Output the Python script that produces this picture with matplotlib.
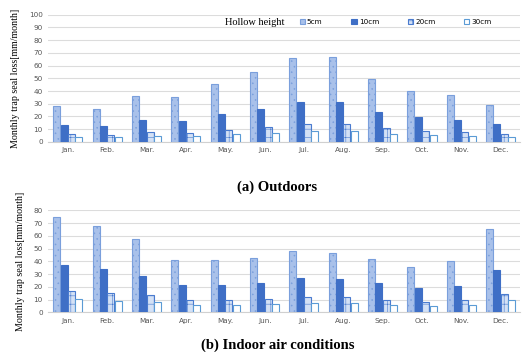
import numpy as np
import matplotlib.pyplot as plt

months = ['Jan.', 'Feb.', 'Mar.', 'Apr.', 'May.', 'Jun.', 'Jul.', 'Aug.', 'Sep.', 'Oct.', 'Nov.', 'Dec.']
heights = ['5cm', '10cm', '20cm', '30cm']

# outdoors, monthly trap seal loss [mm/month]
out_5 = [28.4, 26.2, 36.2, 35.4, 45.7, 55.1, 65.6, 66.6, 49.8, 39.8, 36.6, 29.2]
out_10 = [13.4, 12.6, 17.3, 16.6, 21.8, 26.2, 31.4, 31.6, 23.8, 19.2, 17.4, 14.0]
out_20 = [6.2, 5.5, 7.6, 7.3, 9.5, 11.8, 13.9, 14.2, 10.8, 8.6, 7.6, 6.3]
out_30 = [3.9, 3.8, 4.9, 4.7, 6.3, 7.2, 8.6, 8.8, 6.5, 5.4, 4.8, 4.2]

# indoor air conditions
in_5 = [75.0, 67.5, 57.2, 41.3, 40.8, 43.0, 48.5, 46.9, 42.0, 35.7, 40.5, 65.8]
in_10 = [37.4, 33.9, 28.7, 21.6, 21.5, 23.3, 26.8, 26.1, 22.9, 19.0, 21.0, 33.1]
in_20 = [16.8, 15.1, 13.2, 9.8, 9.7, 10.5, 12.0, 11.8, 9.9, 8.3, 9.4, 14.6]
in_30 = [10.4, 9.1, 8.1, 6.0, 6.0, 6.3, 7.3, 7.1, 6.0, 5.2, 5.7, 9.3]

plt.rcParams['hatch.linewidth'] = 0.4

styles = [
    dict(facecolor='#a9c1ea', edgecolor='#7a9fdc', hatch='...'),
    dict(facecolor='#3f6fc6', edgecolor='#3f6fc6', hatch=None),
    dict(facecolor='#d4e1f5', edgecolor='#4a7bcf', hatch='++'),
    dict(facecolor='white', edgecolor='#5b9bd5', hatch=None),
]

def draw(ax, series, ymax):
    x = np.arange(len(months))
    w = 0.178
    step = 0.187
    bars = []
    for i, vals in enumerate(series):
        b = ax.bar(x + (i - 1.5) * step, vals, w, linewidth=0.8, zorder=3, **styles[i])
        bars.append(b)
    ax.set_xlim(-0.5, len(months) - 0.5)
    ax.set_ylim(0, ymax)
    ax.set_yticks(np.arange(0, ymax + 1, 10))
    ax.set_xticks(x)
    ax.set_xticklabels(months)
    ax.grid(axis='y', color='#dcdcdc', linewidth=0.8, zorder=0)
    for s in ['top', 'right', 'left']:
        ax.spines[s].set_visible(False)
    ax.spines['bottom'].set_color('#d0d0d0')
    ax.tick_params(length=0, labelsize=5.2, labelcolor='#555555', pad=4)
    ax.set_ylabel('Monthly trap seal loss[mm/month]', family='Liberation Serif',
                  fontsize=7.2, labelpad=6)
    return bars

fig = plt.figure(figsize=(5.24, 3.52), dpi=100)
ax1 = fig.add_axes([0.092, 0.597, 0.901, 0.361])
ax2 = fig.add_axes([0.092, 0.113, 0.901, 0.289])

bars = draw(ax1, [out_5, out_10, out_20, out_30], 100)
draw(ax2, [in_5, in_10, in_20, in_30], 80)

fig.text(0.43, 0.937, 'Hollow height', family='Liberation Serif', fontsize=7.5,
         va='center', ha='left')
fig.legend(bars, heights, loc='center left', bbox_to_anchor=(0.572, 0.937), ncol=4,
           frameon=False, fontsize=5.2, handlelength=0.7, handleheight=0.7,
           handletextpad=0.3, columnspacing=4.0, borderaxespad=0, borderpad=0)

fig.text(0.528, 0.468, '(a) Outdoors', family='Liberation Serif', fontweight='bold',
         fontsize=10.5, ha='center', va='center')
fig.text(0.53, 0.018, '(b) Indoor air conditions', family='Liberation Serif',
         fontweight='bold', fontsize=10.5, ha='center', va='center')

fig.savefig('out.png', dpi=100)
